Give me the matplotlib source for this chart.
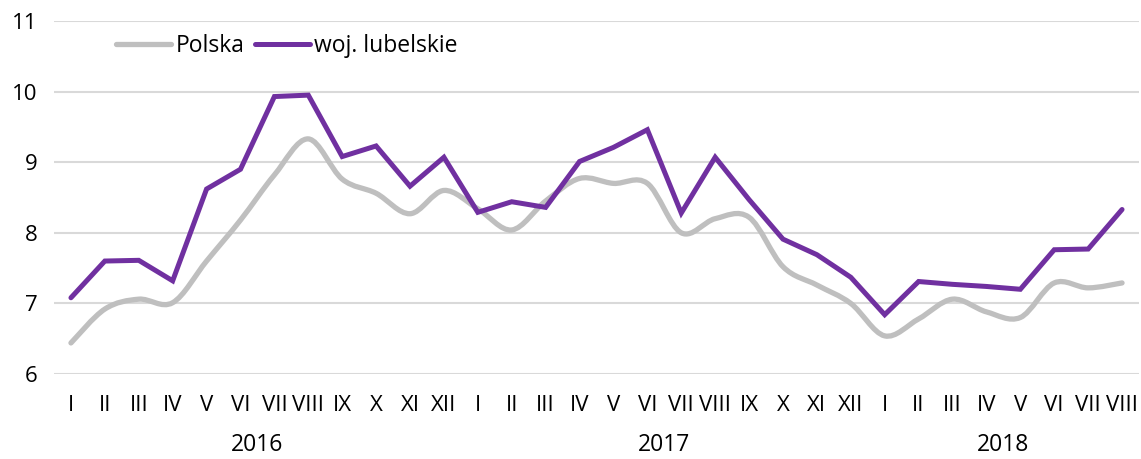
import matplotlib
matplotlib.use("Agg")
import matplotlib.pyplot as plt
import numpy as np
from matplotlib.path import Path
from matplotlib.patches import PathPatch
from matplotlib.lines import Line2D
import matplotlib.transforms as mtransforms

plt.rcParams['font.family'] = ['Open Sans', 'DejaVu Sans']

months = ["I", "II", "III", "IV", "V", "VI", "VII", "VIII", "IX", "X", "XI", "XII",
          "I", "II", "III", "IV", "V", "VI", "VII", "VIII", "IX", "X", "XI", "XII",
          "I", "II", "III", "IV", "V", "VI", "VII", "VIII"]
years = ["2016", "2017", "2018"]
year_centers = [5.5, 17.5, 27.5]

polska = [6.44, 6.92, 7.06, 7.01, 7.60, 8.18, 8.82, 9.33, 8.76, 8.56, 8.27, 8.60,
          8.34, 8.04, 8.45, 8.77, 8.70, 8.70, 8.00, 8.20, 8.22, 7.52, 7.26, 7.00,
          6.54, 6.78, 7.06, 6.88, 6.80, 7.29, 7.22, 7.29]
lubelskie = [7.08, 7.60, 7.61, 7.32, 8.62, 8.90, 9.93, 9.95, 9.08, 9.23, 8.66, 9.07,
             8.29, 8.44, 8.36, 9.01, 9.21, 9.46, 8.28, 9.07, 8.47, 7.91, 7.69, 7.37,
             6.84, 7.31, 7.27, 7.24, 7.20, 7.76, 7.77, 8.33]

GRAY = "#BFBFBF"
PURPLE = "#7030A0"
GRID = "#D9D9D9"

W, H = 1141, 459
fig = plt.figure(figsize=(W / 100, H / 100), dpi=100)
ax = fig.add_axes([54 / W, (H - 374) / H, (1139 - 54) / W, (374 - 21) / H])

x = np.arange(len(months))


def smooth_path(xs, ys):
    verts = [(xs[0], ys[0])]
    codes = [Path.MOVETO]
    n = len(xs)
    for i in range(n - 1):
        p0 = np.array([xs[max(i - 1, 0)], ys[max(i - 1, 0)]])
        p1 = np.array([xs[i], ys[i]])
        p2 = np.array([xs[i + 1], ys[i + 1]])
        p3 = np.array([xs[min(i + 2, n - 1)], ys[min(i + 2, n - 1)]])
        c1 = p1 + (p2 - p0) / 6.0
        c2 = p2 - (p3 - p1) / 6.0
        verts += [tuple(c1), tuple(c2), tuple(p2)]
        codes += [Path.CURVE4] * 3
    return Path(verts, codes)


patch = PathPatch(smooth_path(x, polska), facecolor='none', edgecolor=GRAY,
                  lw=3.8, capstyle='round', joinstyle='round', zorder=3)
ax.add_patch(patch)
ax.plot(x, lubelskie, color=PURPLE, lw=3.6, solid_joinstyle='miter',
        solid_capstyle='round', zorder=4)

ax.set_xlim(-0.5, len(months) - 0.5)
ax.set_ylim(6, 11)
ax.set_yticks([6, 7, 8, 9, 10, 11])
ax.set_xticks(x)
ax.set_xticklabels(months)
ax.tick_params(axis='both', length=0, labelsize=16, colors='#000000')
ax.tick_params(axis='x', pad=15)
ax.tick_params(axis='y', pad=12)
ax.grid(axis='y', color=GRID, lw=1.5)
ax.set_axisbelow(True)
for s in ax.spines.values():
    s.set_visible(False)

trans = mtransforms.blended_transform_factory(ax.transData, fig.transFigure)
for yr, c in zip(years, year_centers):
    ax.text(c, 2 / H, yr, transform=trans, ha='center', va='bottom',
            fontsize=16.5, clip_on=False)

handles = [Line2D([], [], color=GRAY, lw=3.8, solid_capstyle='round'),
           Line2D([], [], color=PURPLE, lw=3.6, solid_capstyle='round')]
fig.legend(handles, ["Polska", "woj. lubelskie"], loc='center left',
           bbox_to_anchor=(116 / W, (H - 46) / H), ncol=2, frameon=False,
           fontsize=16.5, handlelength=2.4, handletextpad=0.2, columnspacing=0.45,
           borderaxespad=0, borderpad=0)

fig.savefig("out.png", dpi=100)
